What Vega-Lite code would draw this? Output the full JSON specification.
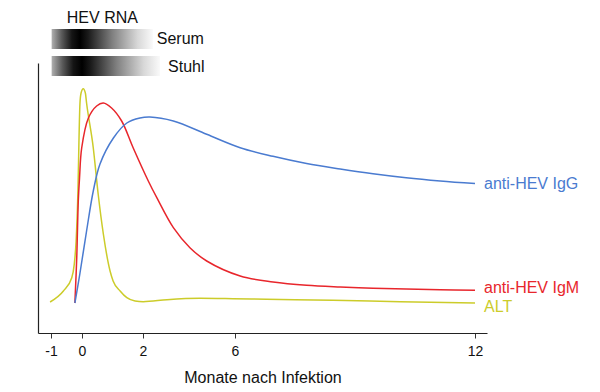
{
  "$schema": "https://vega.github.io/schema/vega-lite/v6.json",
  "width": 449,
  "height": 270,
  "autosize": {"type": "none"},
  "padding": {"left": 38, "top": 63, "right": 113, "bottom": 59},
  "config": {
    "view": {"stroke": null},
    "font": "Liberation Sans",
    "axis": {"grid": false, "domainColor": "#222222", "domainWidth": 1.2, "tickColor": "#333333", "labelColor": "#111111", "titleColor": "#111111"}
  },
  "datasets": {
    "curves": [
      {"series": "ALT", "month": -1.03, "level": 31},
      {"series": "ALT", "month": -0.6, "level": 42},
      {"series": "ALT", "month": -0.33, "level": 55.3},
      {"series": "ALT", "month": -0.25, "level": 68.7},
      {"series": "ALT", "month": -0.19, "level": 92},
      {"series": "ALT", "month": -0.14, "level": 132},
      {"series": "ALT", "month": -0.065, "level": 230},
      {"series": "ALT", "month": -0.03, "level": 240},
      {"series": "ALT", "month": 0.04, "level": 244.3},
      {"series": "ALT", "month": 0.11, "level": 240},
      {"series": "ALT", "month": 0.15, "level": 230},
      {"series": "ALT", "month": 0.37, "level": 185},
      {"series": "ALT", "month": 0.53, "level": 139},
      {"series": "ALT", "month": 0.7, "level": 99},
      {"series": "ALT", "month": 0.92, "level": 62},
      {"series": "ALT", "month": 1.02, "level": 52},
      {"series": "ALT", "month": 1.25, "level": 42},
      {"series": "ALT", "month": 1.47, "level": 35.3},
      {"series": "ALT", "month": 1.74, "level": 32},
      {"series": "ALT", "month": 2.01, "level": 31.3},
      {"series": "ALT", "month": 3.04, "level": 33.3},
      {"series": "ALT", "month": 4.48, "level": 34.7},
      {"series": "ALT", "month": 5.91, "level": 34.3},
      {"series": "ALT", "month": 6.79, "level": 33.7},
      {"series": "ALT", "month": 8.45, "level": 32.7},
      {"series": "ALT", "month": 10.13, "level": 31.3},
      {"series": "ALT", "month": 12, "level": 30},
      {"series": "anti-HEV IgM", "month": -0.23, "level": 30},
      {"series": "anti-HEV IgM", "month": -0.17, "level": 75},
      {"series": "anti-HEV IgM", "month": -0.12, "level": 132},
      {"series": "anti-HEV IgM", "month": -0.08, "level": 155},
      {"series": "anti-HEV IgM", "month": -0.01, "level": 185},
      {"series": "anti-HEV IgM", "month": 0.21, "level": 215},
      {"series": "anti-HEV IgM", "month": 0.48, "level": 227},
      {"series": "anti-HEV IgM", "month": 0.7, "level": 230},
      {"series": "anti-HEV IgM", "month": 0.97, "level": 225},
      {"series": "anti-HEV IgM", "month": 1.3, "level": 212},
      {"series": "anti-HEV IgM", "month": 1.68, "level": 185},
      {"series": "anti-HEV IgM", "month": 2.23, "level": 152},
      {"series": "anti-HEV IgM", "month": 2.6, "level": 135.3},
      {"series": "anti-HEV IgM", "month": 3.32, "level": 105.3},
      {"series": "anti-HEV IgM", "month": 4.04, "level": 85.3},
      {"series": "anti-HEV IgM", "month": 4.77, "level": 72},
      {"series": "anti-HEV IgM", "month": 6.13, "level": 57},
      {"series": "anti-HEV IgM", "month": 6.95, "level": 51},
      {"series": "anti-HEV IgM", "month": 7.79, "level": 47.7},
      {"series": "anti-HEV IgM", "month": 8.63, "level": 46},
      {"series": "anti-HEV IgM", "month": 9.45, "level": 44.8},
      {"series": "anti-HEV IgM", "month": 10.28, "level": 44},
      {"series": "anti-HEV IgM", "month": 11.13, "level": 43.3},
      {"series": "anti-HEV IgM", "month": 12, "level": 42.7},
      {"series": "anti-HEV IgG", "month": -0.23, "level": 30},
      {"series": "anti-HEV IgG", "month": -0.07, "level": 59},
      {"series": "anti-HEV IgG", "month": 0.15, "level": 102},
      {"series": "anti-HEV IgG", "month": 0.37, "level": 142},
      {"series": "anti-HEV IgG", "month": 0.59, "level": 169},
      {"series": "anti-HEV IgG", "month": 1.03, "level": 195},
      {"series": "anti-HEV IgG", "month": 1.47, "level": 210},
      {"series": "anti-HEV IgG", "month": 1.9, "level": 215},
      {"series": "anti-HEV IgG", "month": 2.3, "level": 216},
      {"series": "anti-HEV IgG", "month": 3.32, "level": 212},
      {"series": "anti-HEV IgG", "month": 4.77, "level": 198.7},
      {"series": "anti-HEV IgG", "month": 6.13, "level": 185.3},
      {"series": "anti-HEV IgG", "month": 6.95, "level": 176.7},
      {"series": "anti-HEV IgG", "month": 7.79, "level": 169.5},
      {"series": "anti-HEV IgG", "month": 8.63, "level": 164},
      {"series": "anti-HEV IgG", "month": 9.45, "level": 159.2},
      {"series": "anti-HEV IgG", "month": 10.28, "level": 155.2},
      {"series": "anti-HEV IgG", "month": 11.13, "level": 152},
      {"series": "anti-HEV IgG", "month": 12, "level": 149.4}
    ],
    "endLabels": [
      {"series": "anti-HEV IgG", "month": 12, "level": 149},
      {"series": "anti-HEV IgM", "month": 12, "level": 45},
      {"series": "ALT", "month": 12, "level": 26}
    ],
    "bars": [
      {"sample": "Serum", "start": -0.98, "end": 2.43, "top": 304, "bottom": 284},
      {"sample": "Stuhl", "start": -0.98, "end": 2.74, "top": 277, "bottom": 257}
    ],
    "notes": [
      {"text": "HEV RNA", "month": -0.49, "level": 315},
      {"text": "Serum", "month": 2.6, "level": 294.5},
      {"text": "Stuhl", "month": 3.09, "level": 266}
    ]
  },
  "encoding": {
    "x": {
      "field": "month", "type": "quantitative",
      "scale": {"domain": [-1.42, 0, 2, 6, 12.3], "range": [0, 44, 105, 197, 449], "nice": false, "zero": false},
      "axis": {"values": [-1, 0, 2, 6, 12], "labelExpr": "toString(datum.value)", "title": "Monate nach Infektion", "titleFontSize": 16, "titleFontWeight": "normal", "titlePadding": 11, "labelFontSize": 14, "tickSize": 5, "labelPadding": 6, "labelFlush": false}
    },
    "y": {
      "field": "level", "type": "quantitative",
      "scale": {"domain": [0, 270], "nice": false, "zero": false},
      "axis": {"title": null, "labels": false, "ticks": false}
    }
  },
  "layer": [
    {
      "data": {"name": "bars"},
      "mark": {"type": "rect", "fill": {"gradient": "linear", "x1": 0, "x2": 1, "y1": 0, "y2": 0, "stops": [
        {"offset": 0, "color": "#b0b0b0"},
        {"offset": 0.1, "color": "#5a5a5a"},
        {"offset": 0.2, "color": "#151515"},
        {"offset": 0.28, "color": "#000000"},
        {"offset": 0.36, "color": "#1a1a1a"},
        {"offset": 0.6, "color": "#808080"},
        {"offset": 0.85, "color": "#d8d8d8"},
        {"offset": 1, "color": "#fafafa"}
      ]}, "stroke": null},
      "encoding": {
        "x": {"field": "start", "type": "quantitative"},
        "x2": {"field": "end"},
        "y": {"field": "top", "type": "quantitative"},
        "y2": {"field": "bottom"}
      }
    },
    {
      "data": {"name": "notes"},
      "mark": {"type": "text", "align": "left", "baseline": "middle", "fontSize": 16, "color": "#111111"},
      "encoding": {"text": {"field": "text"}}
    },
    {
      "data": {"name": "curves"},
      "transform": [{"filter": "datum.series === 'ALT'"}],
      "mark": {"type": "line", "interpolate": "monotone", "strokeWidth": 1.5},
      "encoding": {
        "color": {"field": "series", "type": "nominal", "legend": null,
          "scale": {"domain": ["anti-HEV IgG", "anti-HEV IgM", "ALT"], "range": ["#4a7bd0", "#e8262c", "#cccc2a"]}}
      }
    },
    {
      "data": {"name": "curves"},
      "transform": [{"filter": "datum.series !== 'ALT'"}],
      "mark": {"type": "line", "interpolate": "catmull-rom", "strokeWidth": 1.5},
      "encoding": {
        "color": {"field": "series", "type": "nominal", "legend": null,
          "scale": {"domain": ["anti-HEV IgG", "anti-HEV IgM", "ALT"], "range": ["#4a7bd0", "#e8262c", "#cccc2a"]}}
      }
    },
    {
      "data": {"name": "endLabels"},
      "mark": {"type": "text", "align": "left", "baseline": "middle", "dx": 9, "fontSize": 16},
      "encoding": {
        "text": {"field": "series"},
        "color": {"field": "series", "type": "nominal", "legend": null,
          "scale": {"domain": ["anti-HEV IgG", "anti-HEV IgM", "ALT"], "range": ["#4a7bd0", "#e8262c", "#cccc2a"]}}
      }
    }
  ]
}
